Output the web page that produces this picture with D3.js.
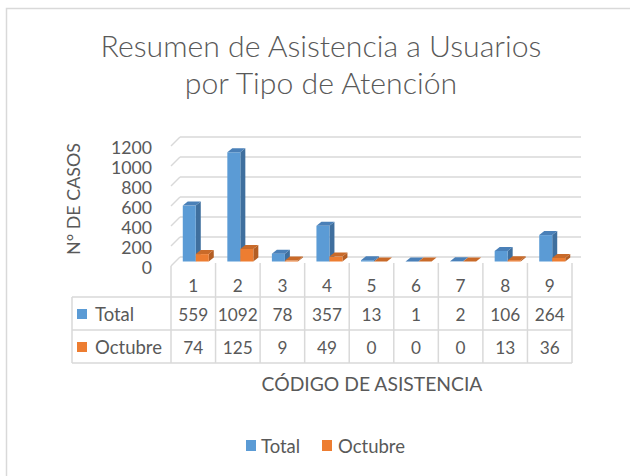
<!DOCTYPE html>
<html><head><meta charset="utf-8">
<script src="https://cdn.jsdelivr.net/npm/d3@7/dist/d3.min.js"></script>
<style>
html,body{margin:0;padding:0;background:#fff;}
svg{display:block;}
text{font-family:Lato,"Open Sans",sans-serif;fill:#595959;}
</style></head>
<body>
<svg id="c" width="630" height="476"></svg>
<script>
const categories = ["1","2","3","4","5","6","7","8","9"];
const seriesNames = ["Total","Octubre"];
const totalValues = [559,1092,78,357,13,1,2,106,264];
const octubreValues = [74,125,9,49,0,0,0,13,36];
const yTicks = [0,200,400,600,800,1000,1200];
const titleLines = ["Resumen de Asistencia a Usuarios","por Tipo de Atención"];
const yTitle = "N° DE CASOS";
const xTitle = "CÓDIGO DE ASISTENCIA";

const colors = {
  Total:{front:"#5B9BD5", side:"#3F6F9E", top:"#4A80B8"},
  Octubre:{front:"#ED7D31", side:"#B35E24", top:"#C96A29"}
};
const seriesValues = {Total: totalValues, Octubre: octubreValues};

const svg = d3.select("#c");
const grid = "#d9d9d9";

function fit(sel, target){
  sel.style("font-size","20px");
  const w = sel.node().getComputedTextLength();
  sel.style("font-size",(20*target/w)+"px");
  return 20*target/w;
}

// chart frame
svg.append("rect").attr("x",6.5).attr("y",8.5).attr("width",700).attr("height",600)
  .attr("fill","#fff").attr("stroke",grid).attr("stroke-width",1.5);

// geometry
const x = d3.scaleBand().domain(categories).range([171,572]).paddingInner(0).paddingOuter(0);
const floorDX = 9, floorDY = 9;
const frontY = 266, backY = frontY - floorDY;
const yH = d3.scaleLinear().domain([0,1200]).range([0,120]);

// walls gridlines
const gl = svg.append("g");
yTicks.forEach(v=>{
  const yb = backY - yH(v), yf = frontY - yH(v);
  gl.append("line").attr("x1",171).attr("y1",yf).attr("x2",171+floorDX).attr("y2",yb)
    .attr("stroke",grid).attr("stroke-width",1.5);
  gl.append("line").attr("x1",171+floorDX).attr("y1",yb).attr("x2",572+floorDX).attr("y2",yb)
    .attr("stroke",grid).attr("stroke-width",1.5);
});

// y tick labels
const yl = svg.append("g");
let tickFs = null;
yTicks.forEach(v=>{
  const t = yl.append("text").attr("x",152).attr("y",frontY - yH(v) + 1)
    .attr("text-anchor","end").attr("dominant-baseline","central").text(v);
  if(tickFs===null){ t.text("1200"); tickFs = fit(t,41); t.text(v);} else t.style("font-size",tickFs+"px");
});

// y title
const yt = svg.append("text").attr("transform","translate(80,199) rotate(-90)")
  .attr("text-anchor","middle").text(yTitle);
fit(yt,112);

// bars
const barW = 13, bdx = 5, bdy = 4;
const baseY = frontY - 4.5;
const sub = d3.scaleBand().domain(seriesNames).range([0,2*barW]);
const bars = svg.append("g");
categories.forEach((c,i)=>{
  const cx = x(c) + x.bandwidth()/2 + 2.5;
  const left = cx - barW;
  seriesNames.forEach(s=>{
    const v = seriesValues[s][i];
    const fx = left + sub(s), h = yH(v), col = colors[s];
    const g = bars.append("g");
    g.append("polygon").attr("points",[[fx+barW,baseY],[fx+barW,baseY-h],[fx+barW+bdx,baseY-h-bdy],[fx+barW+bdx,baseY-bdy]].map(p=>p.join(",")).join(" "))
      .attr("fill",col.side);
    g.append("rect").attr("x",fx).attr("y",baseY-h).attr("width",barW).attr("height",h).attr("fill",col.front);
    g.append("polygon").attr("points",[[fx,baseY-h],[fx+barW,baseY-h],[fx+barW+bdx,baseY-h-bdy],[fx+bdx,baseY-h-bdy]].map(p=>p.join(",")).join(" "))
      .attr("fill",col.top);
  });
});

// data table
const tb = svg.append("g");
const tTop = 297, tMid = 330, tBot = 363, tLeft = 72;
[tTop,tMid,tBot].forEach(y=>tb.append("line").attr("x1",tLeft).attr("x2",572).attr("y1",y).attr("y2",y)
  .attr("stroke",grid).attr("stroke-width",1.5));
tb.append("line").attr("x1",tLeft).attr("x2",tLeft).attr("y1",tTop).attr("y2",tBot).attr("stroke",grid).attr("stroke-width",1.5);
categories.concat(["end"]).forEach((c,i)=>{
  const xx = 171 + i*x.bandwidth();
  tb.append("line").attr("x1",xx).attr("x2",xx).attr("y1",i===0?266:263).attr("y2",tBot)
    .attr("stroke",grid).attr("stroke-width",1.5);
});
const probe = tb.append("text").text("1092");
const valFs = fit(probe,40);
probe.remove();
const probe2 = tb.append("text").text("Octubre");
const labFs = fit(probe2,67);
probe2.remove();
categories.forEach((c,i)=>{
  const cx = x(c)+x.bandwidth()/2;
  tb.append("text").attr("x",cx).attr("y",285).attr("text-anchor","middle").attr("dominant-baseline","central")
    .style("font-size",valFs+"px").text(c);
  tb.append("text").attr("x",cx).attr("y",314).attr("text-anchor","middle").attr("dominant-baseline","central")
    .style("font-size",valFs+"px").text(totalValues[i]);
  tb.append("text").attr("x",cx).attr("y",347).attr("text-anchor","middle").attr("dominant-baseline","central")
    .style("font-size",valFs+"px").text(octubreValues[i]);
});
seriesNames.forEach((s,j)=>{
  const cy = j===0?314:347;
  tb.append("rect").attr("x",77).attr("y",cy-5).attr("width",10).attr("height",10).attr("fill",colors[s].front);
  tb.append("text").attr("x",95).attr("y",cy).attr("dominant-baseline","central")
    .style("font-size",labFs+"px").text(s);
});

// x title
const xt = svg.append("text").attr("x",372).attr("y",383).attr("text-anchor","middle")
  .attr("dominant-baseline","central").text(xTitle);
fit(xt,221);

// title
const t1 = svg.append("text").attr("x",321).attr("y",57).attr("text-anchor","middle")
  .style("font-weight",300).text(titleLines[0]);
const tfs = fit(t1,441);
svg.append("text").attr("x",321).attr("y",94).attr("text-anchor","middle")
  .style("font-weight",300).style("font-size",tfs+"px").text(titleLines[1]);

// legend
const lg = svg.append("g");
const legPos = [{kx:246, tx:261},{kx:322, tx:338}];
seriesNames.forEach((s,j)=>{
  lg.append("rect").attr("x",legPos[j].kx).attr("y",440).attr("width",10).attr("height",11).attr("fill",colors[s].front);
  lg.append("text").attr("x",legPos[j].tx).attr("y",446).attr("dominant-baseline","central")
    .style("font-size",labFs+"px").text(s);
});
</script>
</body></html>
